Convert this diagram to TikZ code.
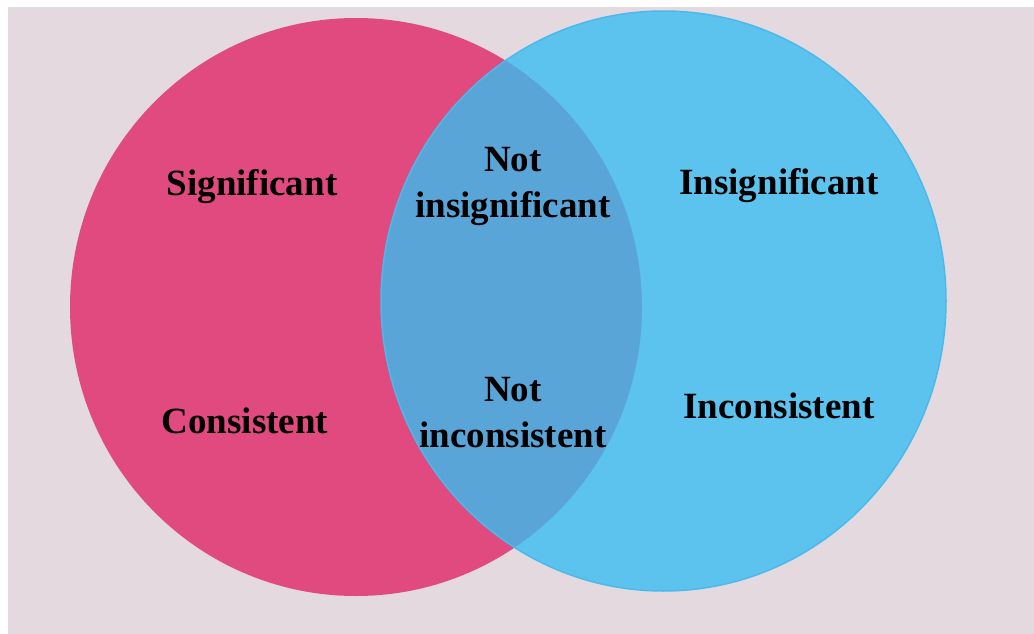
\documentclass[tikz,border=0pt]{standalone}
\usepackage{fontspec}
\setmainfont{Liberation Serif}
\usetikzlibrary{positioning}
\definecolor{bgpink}{HTML}{E3D9DF}
\definecolor{setpink}{HTML}{E04A7F}
\definecolor{setblue}{HTML}{5BC3EE}
\definecolor{setedge}{HTML}{4CB9EC}
\definecolor{overlap}{HTML}{5AA5D8}
\tikzset{%
  set label/.style={%
    font=\fontsize{37}{46}\selectfont\bfseries,
    align=center,
    inner sep=0pt
  }
}

\begin{document}
\begin{tikzpicture}[x=1pt,y=-1pt]
  \useasboundingbox (0,0) rectangle (1034,634);
  \fill [bgpink] (8,7) rectangle (1034,634);
  % the two sets
  \fill [setpink] (356,307) ellipse [x radius=286, y radius=289];
  \fill [setblue] (663.5,301) ellipse [x radius=282.5, y radius=290];
  \begin{scope}
    \clip (356,307) ellipse [x radius=286, y radius=289];
    \fill [overlap] (663.5,301) ellipse [x radius=282.5, y radius=290];
  \end{scope}
  \draw [setedge, line width=1.5pt] (663.5,301) ellipse [x radius=282.5, y radius=290];
  % labels
  \node [set label] (sig) at (252,187) {Significant};
  \node [set label] (cons) at (245,421) {Consistent};
  \node [set label] (notsig) at (513,186) {Not\\insignificant};
  \node [set label] (notcons) at (513,413) {Not\\inconsistent};
  \node [set label] (insig) at (779,186) {Insignificant};
  \node [set label] (incons) at (779,406) {Inconsistent};
\end{tikzpicture}
\end{document}
